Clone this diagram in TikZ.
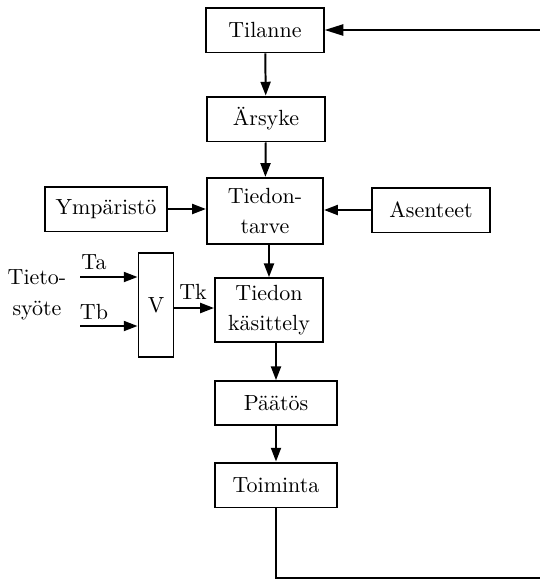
\documentclass[tikz,border=0pt]{standalone}
\usetikzlibrary{arrows.meta, positioning}
\tikzset{
  %% ---- boxes ----
  box/.style   = {rectangle, draw, line width=0.9pt,
                  minimum width=#1, minimum height=0.72cm,
                  align=center, inner sep=2pt},
  box/.default = 1.88cm,
  tallbox/.style = {box=#1, minimum height=1.06cm},
  tallbox/.default = 1.86cm,
  lbl/.style   = {inner sep=1pt},
  %% ---- arrows ----
  arrow/.style = {-{Triangle[length=0.22cm, width=0.16cm]}, line width=0.9pt},
  backarrow/.style = {-{Triangle[length=0.3cm, width=0.18cm]}, line width=0.9pt},
}
\begin{document}
\begin{tikzpicture}[x=0.016cm, y=-0.016cm]
  \useasboundingbox (0,0) rectangle (540,581);

  %% ---- main column ----
  \node[box] (tilanne) at (265,30) {Tilanne};
  \node[box] (arsyke)  at (266,119) {Ärsyke};
  \node[tallbox] (tarve) at (265,211) {Tiedon-\\[2pt]tarve};
  \node[tallbox=1.73cm, minimum height=1.02cm] (kasittely) at (269,310)
    {Tiedon\\[2pt]käsittely};
  \node[box=1.95cm, minimum height=0.70cm] (paatos) at (276,403) {Päätös};
  \node[box=1.95cm] (toiminta) at (276,485) {Toiminta};

  %% ---- side boxes ----
  \node[box=1.95cm] (ymparisto) at (106,209) {Ympäristö};
  \node[box] (asenteet) at (431,210) {Asenteet};
  \node[box=0.56cm, minimum height=1.66cm] (v) at (156,305) {V};

  %% ---- inputs ----
  \node[lbl, align=center] (syote) at (37,295) {Tieto-\\[2pt]syöte};
  \coordinate (ta) at (80,277);
  \coordinate (tb) at (80,326);
  \node[lbl] (talbl) at (94,262) {Ta};
  \node[lbl] (tblbl) at (94,312) {Tb};
  \node[lbl] (tklbl) at (193,292) {Tk};

  %% ---- connectors ----
  \draw[arrow] (tilanne) -- (arsyke);
  \draw[arrow] (arsyke) -- (tarve);
  \draw[arrow] (tarve.south -| kasittely.north) -- (kasittely.north);
  \draw[arrow] (kasittely.south -| paatos.north) -- (paatos.north);
  \draw[arrow] (paatos) -- (toiminta);
  \draw[arrow] (ymparisto) -- (ymparisto -| tarve.west);
  \draw[arrow] (asenteet) -- (asenteet -| tarve.east);
  \draw[arrow] (ta) -- (ta -| v.west);
  \draw[arrow] (tb) -- (tb -| v.west);
  \draw[arrow] (v.east |- 0,308) -- (kasittely.west |- 0,308);

  %% ---- feedback ----
  \coordinate (low)  at (276,578);
  \coordinate (edge) at (548,578);
  \draw[backarrow] (toiminta.south) -- (low) -- (edge)
    -- (edge |- tilanne) -- (tilanne.east);

\end{tikzpicture}
\end{document}
